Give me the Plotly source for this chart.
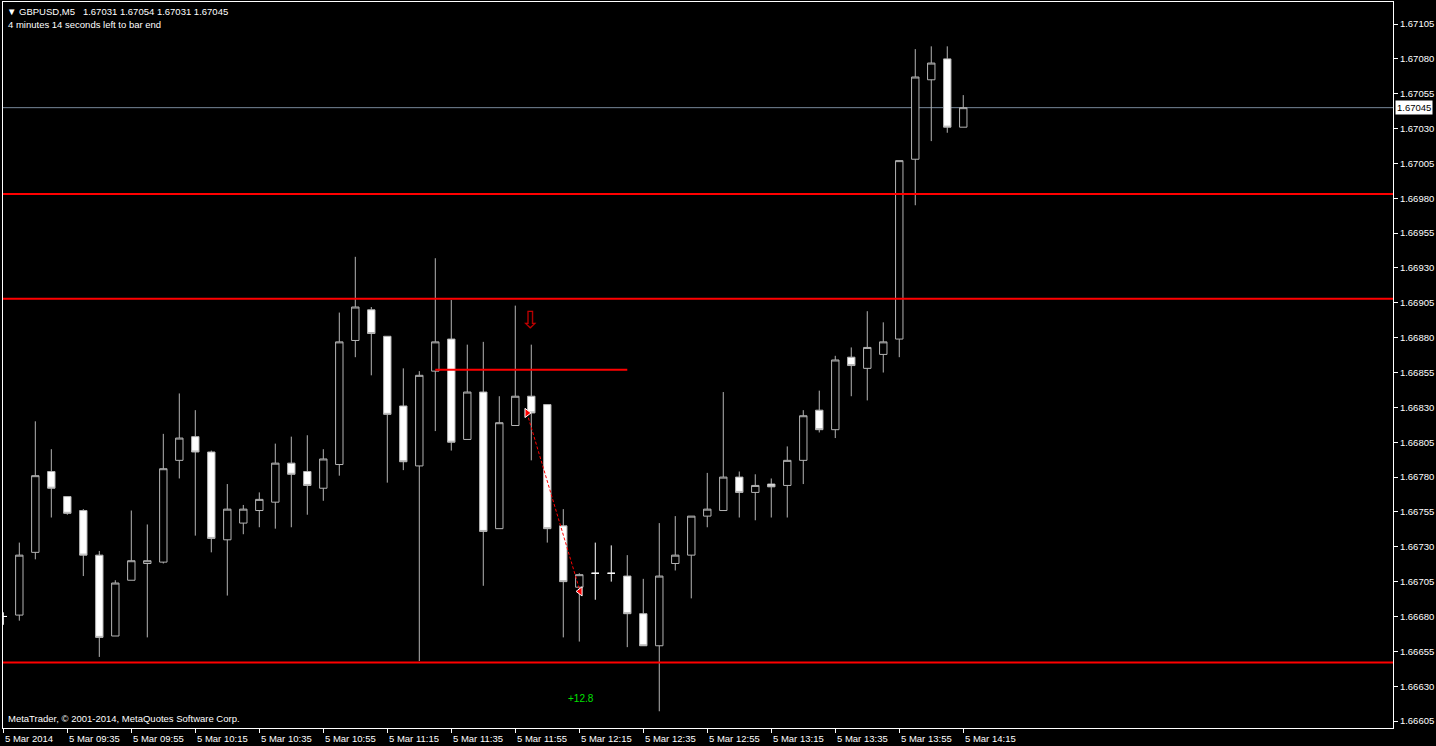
import plotly.graph_objects as go

# GBPUSD M5, 5 Mar 2014, bars from 09:15 to 14:15 (one bar every 5 minutes)
opens = [1.66680, 1.66681, 1.66726, 1.66784, 1.66766, 1.66756, 1.66724, 1.66666, 1.66706, 1.66718,
         1.66719, 1.66792, 1.66809, 1.66798, 1.66735, 1.66747, 1.66756, 1.66762, 1.66790, 1.66784,
         1.66772, 1.66789, 1.66878, 1.66900, 1.66881, 1.66831, 1.66788, 1.66856, 1.66879, 1.66807,
         1.66841, 1.66743, 1.66817, 1.66838, 1.66832, 1.66745, 1.66701, 1.66711, 1.66711, 1.66709,
         1.66682, 1.66659, 1.66718, 1.66724, 1.66752, 1.66756, 1.66780, 1.66769, 1.66775, 1.66774,
         1.66792, 1.66828, 1.66814, 1.66866, 1.66858, 1.66868, 1.66879, 1.67008, 1.67065, 1.67080,
         1.67031]
highs = [1.66683, 1.66733, 1.66820, 1.66800, 1.66766, 1.66757, 1.66727, 1.66706, 1.66756, 1.66746,
         1.66811, 1.66840, 1.66828, 1.66799, 1.66775, 1.66760, 1.66769, 1.66804, 1.66809, 1.66810,
         1.66800, 1.66898, 1.66938, 1.66902, 1.66881, 1.66858, 1.66856, 1.66937, 1.66907, 1.66875,
         1.66877, 1.66838, 1.66903, 1.66875, 1.66832, 1.66757, 1.66711, 1.66733, 1.66731, 1.66724,
         1.66707, 1.66747, 1.66752, 1.66752, 1.66783, 1.66841, 1.66784, 1.66782, 1.66779, 1.66802,
         1.66828, 1.66842, 1.66867, 1.66873, 1.66899, 1.66891, 1.67007, 1.67087, 1.67089, 1.67089,
         1.67054]
lows = [1.66674, 1.66677, 1.66721, 1.66751, 1.66753, 1.66709, 1.66651, 1.66666, 1.66706, 1.66665,
        1.66718, 1.66779, 1.66738, 1.66726, 1.66695, 1.66739, 1.66744, 1.66743, 1.66744, 1.66753,
        1.66763, 1.66781, 1.66866, 1.66853, 1.66776, 1.66785, 1.66648, 1.66813, 1.66799, 1.66807,
        1.66702, 1.66743, 1.66817, 1.66792, 1.66733, 1.66665, 1.66662, 1.66692, 1.66705, 1.66658,
        1.66659, 1.66612, 1.66713, 1.66693, 1.66744, 1.66756, 1.66751, 1.66749, 1.66751, 1.66751,
        1.66775, 1.66812, 1.66808, 1.66838, 1.66835, 1.66855, 1.66866, 1.66975, 1.67021, 1.67027,
        1.67031]
closes = [1.66680, 1.66724, 1.66781, 1.66772, 1.66754, 1.66724, 1.66665, 1.66704, 1.66720, 1.66720,
          1.66786, 1.66808, 1.66798, 1.66736, 1.66757, 1.66757, 1.66764, 1.66790, 1.66782, 1.66774,
          1.66793, 1.66877, 1.66902, 1.66883, 1.66825, 1.66791, 1.66853, 1.66877, 1.66805, 1.66841,
          1.66741, 1.66819, 1.66838, 1.66826, 1.66743, 1.66705, 1.66710, 1.66711, 1.66711, 1.66682,
          1.66659, 1.66709, 1.66724, 1.66752, 1.66757, 1.66780, 1.66769, 1.66774, 1.66773, 1.66792,
          1.66824, 1.66814, 1.66864, 1.66860, 1.66873, 1.66877, 1.67007, 1.67067, 1.67077, 1.67031,
          1.67045]

tick_labels = ["5 Mar 2014", "5 Mar 09:35", "5 Mar 09:55", "5 Mar 10:15", "5 Mar 10:35",
               "5 Mar 10:55", "5 Mar 11:15", "5 Mar 11:35", "5 Mar 11:55", "5 Mar 12:15",
               "5 Mar 12:35", "5 Mar 12:55", "5 Mar 13:15", "5 Mar 13:35", "5 Mar 13:55",
               "5 Mar 14:15"]

# horizontal levels drawn on the chart
levels = [1.66983, 1.66908, 1.66647]
short_level = 1.66857
short_level_bars = [27, 39]
bid = 1.67045

# sell trade: open / close (bar position, price) and result
trade_bars = [32.73, 36.05]
trade_prices = [1.66826, 1.66698]
trade_result = "+12.8"
result_bar, result_price = 36.1, 1.66621
signal_bar, signal_price = 32.92, 1.66893

header = "▼ GBPUSD,M5\u00a0\u00a0 1.67031 1.67054 1.67031 1.67045"
timer = "4 minutes 14 seconds left to bar end"
copyright_text = "MetaTrader, © 2001-2014, MetaQuotes Software Corp."

FONT = "Liberation Sans, Arial, sans-serif"
GRAY = "#b4b4b4"

bars = list(range(len(opens)))
normal = [i for i in bars if opens[i] != closes[i]]
doji = [i for i in bars if opens[i] == closes[i]]

fig = go.Figure()
fig.add_trace(go.Candlestick(
    x=normal, open=[opens[i] for i in normal], high=[highs[i] for i in normal],
    low=[lows[i] for i in normal], close=[closes[i] for i in normal],
    increasing={"fillcolor": "#000000", "line": {"color": GRAY, "width": 1}},
    decreasing={"fillcolor": "#ffffff", "line": {"color": GRAY, "width": 1}},
    showlegend=False, hoverinfo="skip"))
fig.add_trace(go.Candlestick(
    x=doji, open=[opens[i] for i in doji], high=[highs[i] for i in doji],
    low=[lows[i] for i in doji], close=[closes[i] for i in doji],
    increasing={"fillcolor": "#ffffff", "line": {"color": "#ffffff", "width": 1}},
    decreasing={"fillcolor": "#ffffff", "line": {"color": "#ffffff", "width": 1}},
    showlegend=False, hoverinfo="skip"))

# trade line and its markers
fig.add_trace(go.Scatter(x=trade_bars, y=trade_prices, mode="lines",
                         line={"color": "#ff0000", "width": 1, "dash": "3px,2px"},
                         showlegend=False, hoverinfo="skip"))
fig.add_trace(go.Scatter(x=trade_bars, y=trade_prices, mode="markers",
                         marker={"symbol": ["triangle-right", "triangle-left"], "size": 8,
                                 "color": "#ff0000", "line": {"color": "#ffffff", "width": 1}},
                         showlegend=False, hoverinfo="skip"))

for level in levels:
    fig.add_shape(type="line", xref="paper", x0=0, x1=1, y0=level, y1=level,
                  line={"color": "#ff0000", "width": 2})
fig.add_shape(type="line", x0=short_level_bars[0], x1=short_level_bars[1],
              y0=short_level, y1=short_level, line={"color": "#ff0000", "width": 2})
fig.add_shape(type="line", xref="paper", x0=0, x1=1, y0=bid, y1=bid,
              line={"color": "#778899", "width": 1}, layer="below")

annotations = [
    dict(x=i * 4, y=0, xref="x", yref="paper", text=label, showarrow=False,
         xanchor="left", yanchor="top", xshift=0, yshift=-3,
         font={"family": FONT, "size": 9.5, "color": "#ffffff"})
    for i, label in enumerate(tick_labels)
]
annotations += [
    dict(x=1, y=bid, xref="paper", yref="y", text=f"{bid:.5f}", showarrow=False,
         xanchor="left", yanchor="middle", xshift=2, bgcolor="#ffffff", borderpad=1,
         font={"family": FONT, "size": 9.5, "color": "#000000"}),
    dict(x=0, y=1, xref="paper", yref="paper", text=header, showarrow=False,
         xanchor="left", yanchor="top", xshift=2, yshift=-2,
         font={"family": FONT, "size": 9.5, "color": "#ffffff"}),
    dict(x=0, y=1, xref="paper", yref="paper", text=timer, showarrow=False,
         xanchor="left", yanchor="top", xshift=3, yshift=-15,
         font={"family": FONT, "size": 9.5, "color": "#ffffff"}),
    dict(x=0, y=0, xref="paper", yref="paper", text=copyright_text, showarrow=False,
         xanchor="left", yanchor="bottom", xshift=3, yshift=2,
         font={"family": FONT, "size": 9.5, "color": "#ffffff"}),
    dict(x=result_bar, y=result_price, text=trade_result, showarrow=False,
         font={"family": FONT, "size": 10, "color": "#00e000"}),
    dict(x=signal_bar, y=signal_price, text="⇩", showarrow=False,
         font={"family": "DejaVu Sans", "size": 24, "color": "#c00000"}),
]

fig.update_layout(
    width=1436, height=746,
    margin={"l": 3, "r": 43, "t": 2, "b": 18, "autoexpand": False},
    paper_bgcolor="#000000", plot_bgcolor="#000000",
    boxgap=0.34,
    font={"family": FONT, "size": 9.5, "color": "#ffffff"},
    annotations=annotations,
    xaxis={"range": [-0.02, 86.86], "rangeslider": {"visible": False},
           "automargin": False, "showgrid": False, "zeroline": False,
           "showline": True, "linecolor": "#ffffff", "linewidth": 1, "mirror": True,
           "tickmode": "array", "tickvals": [i * 4 for i in range(len(tick_labels))],
           "ticks": "outside", "ticklen": 4, "tickcolor": "#ffffff",
           "showticklabels": False},
    yaxis={"range": [1.66600, 1.671208], "side": "right",
           "automargin": False, "showgrid": False, "zeroline": False,
           "showline": True, "linecolor": "#ffffff", "linewidth": 1, "mirror": True,
           "tick0": 1.66605, "dtick": 0.00025, "tickformat": ".5f",
           "ticks": "outside", "ticklen": 4, "tickcolor": "#ffffff",
           "tickfont": {"family": FONT, "size": 9.5, "color": "#ffffff"}},
)

# the page body has a default 8px margin; drop it so the chart fills the window
fig.write_html("out.html", config={"displayModeBar": False},
               post_script="document.body.style.margin = '0'; document.body.style.background = '#000';")
